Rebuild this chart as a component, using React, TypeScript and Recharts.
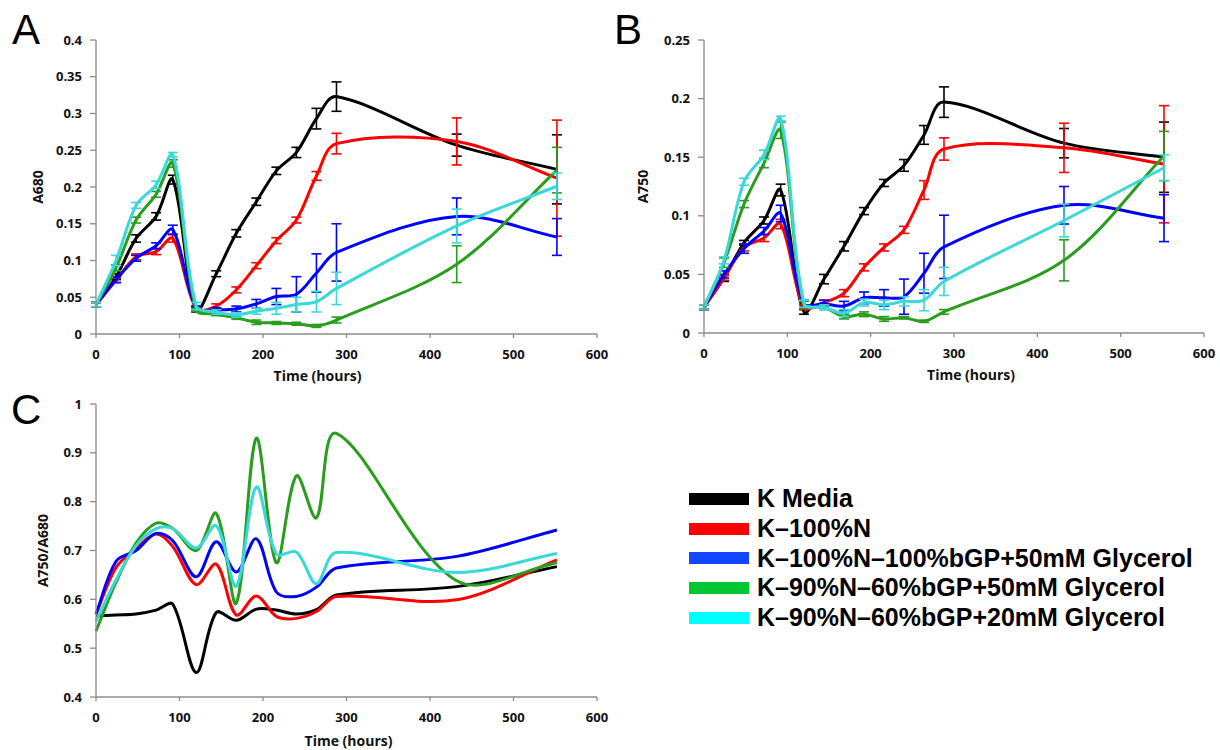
import React from "react";
import { ErrorBar, Line, LineChart, XAxis, YAxis } from "recharts";

// sampling times (hours)
const hours = [0, 24, 48, 72, 92, 120, 144, 168, 192, 216, 240, 264, 288, 432, 552];

const seriesNames = [
  "K Media",
  "K–100%N",
  "K–100%N–100%bGP+50mM Glycerol",
  "K–90%N–60%bGP+50mM Glycerol",
  "K–90%N–60%bGP+20mM Glycerol",
];
const lineColors = ["#000000", "#ff0000", "#0000ff", "#2a9d1e", "#3ad8d8"];
const legendColors = ["#000000", "#ff0000", "#1346ff", "#00c832", "#00ffff"];

// panel A: A680
const kMediaA680 = [0.04, 0.078, 0.13, 0.16, 0.21, 0.033, 0.082, 0.137, 0.18, 0.222, 0.247, 0.293, 0.323, 0.257, 0.224];
const kMediaA680Err = [0.003, 0.004, 0.005, 0.005, 0.006, 0.003, 0.004, 0.005, 0.005, 0.005, 0.007, 0.014, 0.02, 0.015, 0.047];
const n100A680 = [0.04, 0.073, 0.105, 0.112, 0.13, 0.035, 0.038, 0.06, 0.093, 0.127, 0.155, 0.215, 0.259, 0.262, 0.212];
const n100A680Err = [0.003, 0.003, 0.004, 0.004, 0.005, 0.003, 0.003, 0.004, 0.004, 0.004, 0.004, 0.006, 0.014, 0.032, 0.079];
const bgp50A680 = [0.04, 0.074, 0.103, 0.12, 0.142, 0.035, 0.033, 0.034, 0.041, 0.051, 0.054, 0.083, 0.111, 0.16, 0.132];
const bgp50A680Err = [0.003, 0.004, 0.004, 0.004, 0.006, 0.003, 0.003, 0.004, 0.006, 0.011, 0.024, 0.026, 0.039, 0.025, 0.025];
const gly50A680 = [0.04, 0.09, 0.155, 0.19, 0.232, 0.033, 0.027, 0.022, 0.016, 0.015, 0.014, 0.011, 0.019, 0.095, 0.223];
const gly50A680Err = [0.003, 0.004, 0.004, 0.004, 0.005, 0.002, 0.002, 0.002, 0.003, 0.002, 0.002, 0.002, 0.004, 0.025, 0.031];
const gly20A680 = [0.04, 0.1, 0.175, 0.203, 0.244, 0.038, 0.03, 0.026, 0.031, 0.035, 0.04, 0.044, 0.062, 0.147, 0.201];
const gly20A680Err = [0.003, 0.007, 0.004, 0.005, 0.003, 0.005, 0.003, 0.003, 0.004, 0.008, 0.01, 0.014, 0.022, 0.023, 0.018];

// panel B: A750
const kMediaA750 = [0.022, 0.047, 0.077, 0.096, 0.122, 0.018, 0.046, 0.074, 0.104, 0.128, 0.143, 0.169, 0.197, 0.162, 0.15];
const kMediaA750Err = [0.002, 0.003, 0.002, 0.003, 0.005, 0.002, 0.004, 0.004, 0.003, 0.003, 0.005, 0.008, 0.013, 0.0125, 0.03];
const n100A750 = [0.022, 0.047, 0.073, 0.081, 0.093, 0.022, 0.026, 0.034, 0.056, 0.073, 0.088, 0.122, 0.157, 0.158, 0.144];
const n100A750Err = [0.002, 0.002, 0.003, 0.003, 0.004, 0.002, 0.002, 0.003, 0.003, 0.003, 0.003, 0.008, 0.0095, 0.021, 0.05];
const bgp50A750 = [0.022, 0.05, 0.072, 0.087, 0.102, 0.025, 0.025, 0.023, 0.03, 0.03, 0.031, 0.051, 0.0735, 0.109, 0.098];
const bgp50A750Err = [0.002, 0.003, 0.004, 0.003, 0.007, 0.003, 0.003, 0.004, 0.005, 0.007, 0.015, 0.017, 0.027, 0.016, 0.02];
const gly50A750 = [0.022, 0.06, 0.11, 0.145, 0.173, 0.024, 0.022, 0.014, 0.016, 0.012, 0.013, 0.01, 0.018, 0.062, 0.151];
const gly50A750Err = [0.002, 0.004, 0.003, 0.004, 0.007, 0.003, 0.002, 0.002, 0.002, 0.002, 0.001, 0.001, 0.002, 0.0175, 0.021];
const gly20A750 = [0.022, 0.062, 0.129, 0.152, 0.183, 0.025, 0.022, 0.017, 0.026, 0.024, 0.027, 0.028, 0.044, 0.096, 0.141];
const gly20A750Err = [0.002, 0.003, 0.003, 0.004, 0.002, 0.003, 0.002, 0.003, 0.003, 0.004, 0.004, 0.009, 0.012, 0.014, 0.011];

// panel C: A750/A680
const kMediaRatio = [0.566, 0.568, 0.57, 0.578, 0.59, 0.45, 0.573, 0.557, 0.58, 0.578, 0.57, 0.579, 0.609, 0.626, 0.667];
const n100Ratio = [0.57, 0.665, 0.705, 0.734, 0.708, 0.63, 0.672, 0.568, 0.607, 0.565, 0.561, 0.575, 0.606, 0.599, 0.681];
const bgp50Ratio = [0.57, 0.678, 0.7, 0.735, 0.72, 0.646, 0.718, 0.656, 0.724, 0.615, 0.606, 0.625, 0.664, 0.688, 0.742];
const gly50Ratio = [0.535, 0.635, 0.715, 0.756, 0.745, 0.7, 0.776, 0.592, 0.93, 0.675, 0.853, 0.767, 0.94, 0.638, 0.675];
const gly20Ratio = [0.555, 0.64, 0.71, 0.745, 0.745, 0.705, 0.751, 0.627, 0.83, 0.693, 0.697, 0.632, 0.696, 0.655, 0.694];

const xTicks = [0, 100, 200, 300, 400, 500, 600];
const a680Ticks = [0, 0.05, 0.1, 0.15, 0.2, 0.25, 0.3, 0.35, 0.4];
const a750Ticks = [0, 0.05, 0.1, 0.15, 0.2, 0.25];
const ratioTicks = [0.4, 0.5, 0.6, 0.7, 0.8, 0.9, 1];

const A680 = [kMediaA680, n100A680, bgp50A680, gly50A680, gly20A680];
const A680Err = [kMediaA680Err, n100A680Err, bgp50A680Err, gly50A680Err, gly20A680Err];
const A750 = [kMediaA750, n100A750, bgp50A750, gly50A750, gly20A750];
const A750Err = [kMediaA750Err, n100A750Err, bgp50A750Err, gly50A750Err, gly20A750Err];
const RATIO = [kMediaRatio, n100Ratio, bgp50Ratio, gly50Ratio, gly20Ratio];

// smoothed line through every point (Catmull-Rom, tangents weighted by chord length)
function smoothCurve(context: any) {
  let xs: number[] = [];
  let ys: number[] = [];
  return {
    areaStart() {},
    areaEnd() {},
    lineStart() {
      xs = [];
      ys = [];
    },
    point(x: number, y: number) {
      xs.push(+x);
      ys.push(+y);
    },
    lineEnd() {
      const n = xs.length;
      if (!n) return;
      const d = (i: number) => (i < 0 || i >= n - 1 ? 0 : Math.hypot(xs[i + 1] - xs[i], ys[i + 1] - ys[i]));
      context.moveTo(xs[0], ys[0]);
      for (let i = 0; i < n - 1; i++) {
        const p = Math.max(i - 1, 0);
        const q = Math.min(i + 2, n - 1);
        const di = d(i);
        const k1 = di / (3 * (d(i - 1) + di || 1));
        const k2 = di / (3 * (di + d(i + 1) || 1));
        context.bezierCurveTo(
          xs[i] + (xs[i + 1] - xs[p]) * k1,
          ys[i] + (ys[i + 1] - ys[p]) * k1,
          xs[i + 1] - (xs[q] - xs[i]) * k2,
          ys[i + 1] - (ys[q] - ys[i]) * k2,
          xs[i + 1],
          ys[i + 1]
        );
      }
    },
  };
}

const axisGray = "#8c8c8c";
const tickFont = {
  fontFamily: '"Open Sans", sans-serif',
  fontWeight: 700,
  fontSize: 13,
  fill: "#111",
};
const titleFont = {
  fontFamily: '"Open Sans", sans-serif',
  fontWeight: 700,
  fontSize: 14,
  fill: "#111",
};

function buildRows(values: number[][], errors?: number[][]) {
  return hours.map((h, i) => {
    const row: Record<string, number> = { h };
    values.forEach((v, s) => {
      row[`s${s}`] = v[i];
      if (errors) row[`e${s}`] = errors[s][i];
    });
    return row;
  });
}

interface PanelProps {
  values: number[][];
  errors?: number[][];
  yTicks: number[];
  yLabel: string;
  width: number;
  height: number;
  margin: { top: number; right: number; bottom: number; left: number };
  yAxisWidth: number;
  yLabelOffset: number;
  xLabelShift: number;
  xLabelOffset: number;
}

function Panel(p: PanelProps) {
  const rows = buildRows(p.values, p.errors);
  return (
    <LineChart width={p.width} height={p.height} data={rows} margin={p.margin}>
      <XAxis
        type="number"
        dataKey="h"
        domain={[0, 600]}
        ticks={xTicks}
        axisLine={{ stroke: axisGray, strokeWidth: 1.3 }}
        tickLine={{ stroke: axisGray, strokeWidth: 1.3 }}
        tickSize={4}
        tickMargin={12}
        tick={tickFont}
        height={50}
        label={{
          value: "Time (hours)",
          position: "insideBottom",
          offset: p.xLabelOffset,
          dx: p.xLabelShift,
          style: titleFont,
        }}
      />
      <YAxis
        type="number"
        domain={[p.yTicks[0], p.yTicks[p.yTicks.length - 1]]}
        ticks={p.yTicks}
        axisLine={{ stroke: axisGray, strokeWidth: 1.3 }}
        tickLine={{ stroke: axisGray, strokeWidth: 1.3 }}
        tickSize={6}
        tickMargin={8}
        tick={tickFont}
        width={p.yAxisWidth}
        label={{
          value: p.yLabel,
          angle: -90,
          position: "insideLeft",
          offset: p.yLabelOffset,
          style: { ...titleFont, textAnchor: "middle" },
        }}
      />
      {p.values.map((_, s) => (
        <Line
          key={s}
          dataKey={`s${s}`}
          type={smoothCurve as any}
          stroke={lineColors[s]}
          strokeWidth={3}
          dot={false}
          activeDot={false}
          isAnimationActive={false}
        >
          {p.errors && (
            <ErrorBar
              dataKey={`e${s}`}
              direction="y"
              width={5}
              stroke={lineColors[s]}
              strokeWidth={1.6}
              isAnimationActive={false}
            />
          )}
        </Line>
      ))}
    </LineChart>
  );
}

const letterStyle: React.CSSProperties = {
  position: "absolute",
  fontFamily: '"Liberation Sans", Arial, sans-serif',
  fontSize: 42,
  lineHeight: "42px",
  color: "#000",
};

function Legend() {
  return (
    <div style={{ position: "absolute", left: 689, top: 484 }}>
      {seriesNames.map((name, i) => (
        <div key={name} style={{ display: "flex", alignItems: "center", height: 29.8 }}>
          <div style={{ width: 60, height: 12, background: legendColors[i] }} />
          <span
            style={{
              marginLeft: 8,
              fontFamily: '"Liberation Sans", Arial, sans-serif',
              fontWeight: 700,
              fontSize: 25,
              lineHeight: "29.8px",
              whiteSpace: "nowrap",
            }}
          >
            {name}
          </span>
        </div>
      ))}
    </div>
  );
}

export default function App() {
  return (
    <div
      style={{
        position: "absolute",
        left: 0,
        top: 0,
        width: 1220,
        height: 750,
        background: "#fff",
        overflow: "hidden",
      }}
    >
      <div style={{ position: "absolute", left: 0, top: 0 }}>
        <Panel
          values={A680}
          errors={A680Err}
          yTicks={a680Ticks}
          yLabel="A680"
          width={620}
          height={390}
          margin={{ top: 40, right: 23, bottom: 6, left: 10 }}
          yAxisWidth={86}
          yLabelOffset={28}
          xLabelShift={-29}
          xLabelOffset={3}
        />
      </div>
      <div style={{ position: "absolute", left: 600, top: 0 }}>
        <Panel
          values={A750}
          errors={A750Err}
          yTicks={a750Ticks}
          yLabel="A750"
          width={620}
          height={390}
          margin={{ top: 40, right: 16, bottom: 7, left: 10 }}
          yAxisWidth={94}
          yLabelOffset={33}
          xLabelShift={17}
          xLabelOffset={3}
        />
      </div>
      <div style={{ position: "absolute", left: 0, top: 380 }}>
        <Panel
          values={RATIO}
          yTicks={ratioTicks}
          yLabel="A750/A680"
          width={620}
          height={370}
          margin={{ top: 24, right: 23, bottom: 3, left: 10 }}
          yAxisWidth={86}
          yLabelOffset={33}
          xLabelShift={2}
          xLabelOffset={1}
        />
      </div>
      <div style={{ ...letterStyle, left: 12, top: 9 }}>A</div>
      <div style={{ ...letterStyle, left: 614, top: 9 }}>B</div>
      <div style={{ ...letterStyle, left: 11, top: 389 }}>C</div>
      <Legend />
    </div>
  );
}
